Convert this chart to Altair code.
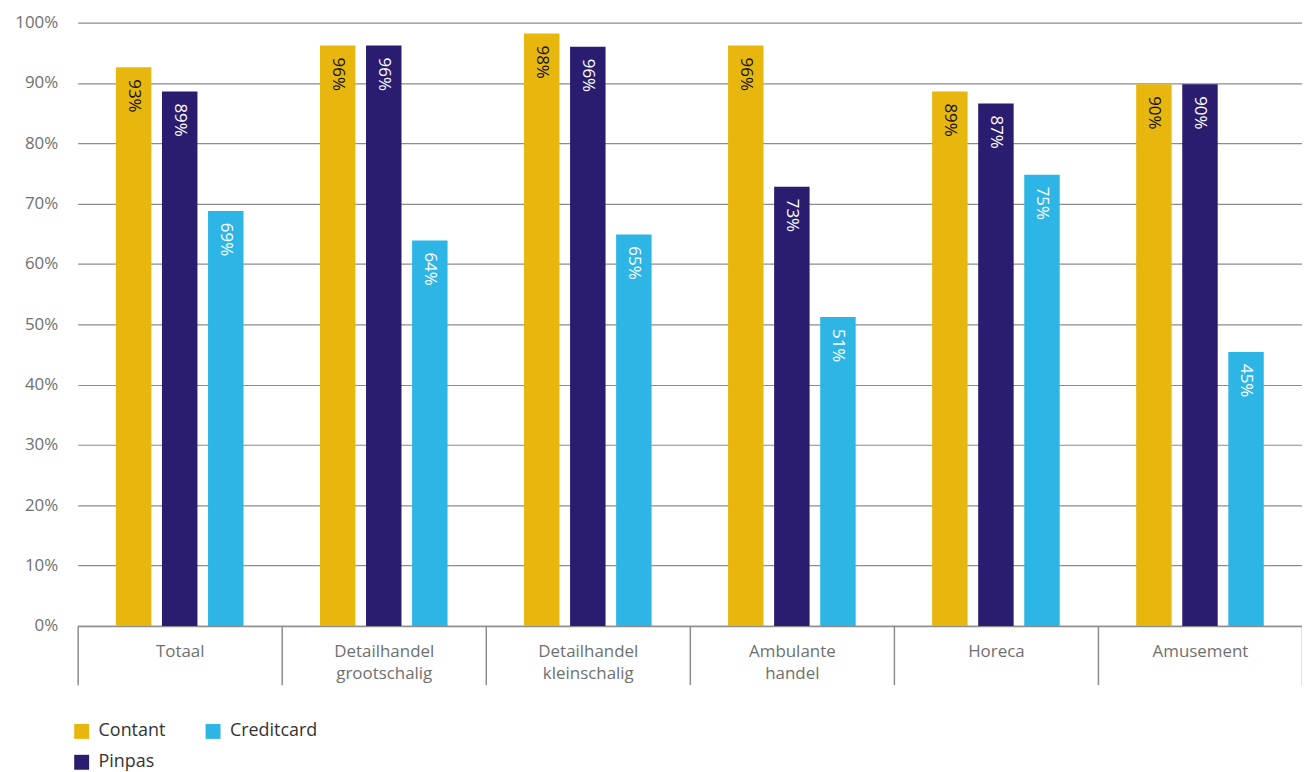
import altair as alt
import pandas as pd

categories = ["Totaal", "Detailhandel grootschalig", "Detailhandel kleinschalig",
              "Ambulante handel", "Horeca", "Amusement"]
series = ["Contant", "Pinpas", "Creditcard"]
contant = [0.926, 0.962, 0.982, 0.962, 0.886, 0.898]
pinpas = [0.886, 0.962, 0.960, 0.728, 0.866, 0.898]
creditcard = [0.688, 0.639, 0.649, 0.512, 0.748, 0.454]
colors = {"Contant": "#E8B70E", "Pinpas": "#2A1D6F", "Creditcard": "#2DB6E5"}
y_ticks = [0, 0.1, 0.2, 0.3, 0.4, 0.5, 0.6, 0.7, 0.8, 0.9, 1.0]

rows = []
for name, vals in zip(series, [contant, pinpas, creditcard]):
    for c, v in zip(categories, vals):
        rows.append({"cat": c, "type": name, "value": v})
df = pd.DataFrame(rows)

FONT = "Open Sans"
GRAY = "#8c8c8c"

x_enc = alt.X("cat:N", sort=categories,
              scale=alt.Scale(paddingInner=0, paddingOuter=0),
              axis=alt.Axis(title=None, tickBand="extent", tickSize=59, tickColor=GRAY,
                            tickWidth=1.5, domainColor=GRAY, domainWidth=1.5,
                            labelAngle=0, labelExpr="split(datum.label, ' ')",
                            labelPadding=-41, labelFontSize=17, labelColor="#707070",
                            labelFont=FONT, labelBaseline="top", labelLineHeight=22,
                            grid=False))
xoff_enc = alt.XOffset("type:N", sort=series,
                       scale=alt.Scale(paddingInner=0.23, paddingOuter=0.83))
y_enc = alt.Y("value:Q", scale=alt.Scale(domain=[0, 1], nice=False),
              axis=alt.Axis(title=None, format=".0%", values=y_ticks, grid=True,
                            gridColor=GRAY, gridWidth=1.2, domain=False, ticks=False,
                            labelPadding=20, labelFontSize=17, labelColor="#707070",
                            labelFont=FONT))

base = alt.Chart(df)

bars = base.mark_bar().encode(
    x=x_enc,
    xOffset=xoff_enc,
    y=y_enc,
    color=alt.Color("type:N",
                    scale=alt.Scale(domain=series,
                                    range=[colors[k] for k in series]),
                    legend=alt.Legend(title=None, orient="none", legendX=-5, legendY=703,
                                      columns=2, symbolType="square", symbolSize=225,
                                      symbolStrokeWidth=0, symbolOpacity=1,
                                      labelFontSize=18, labelColor="#333333",
                                      labelFont=FONT, columnPadding=38, rowPadding=13,
                                      padding=0, labelOffset=8)),
)

labels = base.mark_text(angle=90, align="left", baseline="middle", dx=12,
                        fontSize=17, font=FONT).encode(
    x=x_enc,
    xOffset=xoff_enc,
    y=y_enc,
    text=alt.Text("value:Q", format=".0%"),
    color=alt.condition("datum.type == 'Contant'", alt.value("#111111"), alt.value("#ffffff")),
)

chart = alt.layer(bars, labels).properties(
    width=1230, height=606,
    autosize=alt.AutoSizeParams(type="none"),
    padding={"left": 70, "top": 13, "right": 0, "bottom": 145},
).configure_view(stroke=None)

chart.save("out.html", embed_options={"renderer": "svg", "actions": False})
